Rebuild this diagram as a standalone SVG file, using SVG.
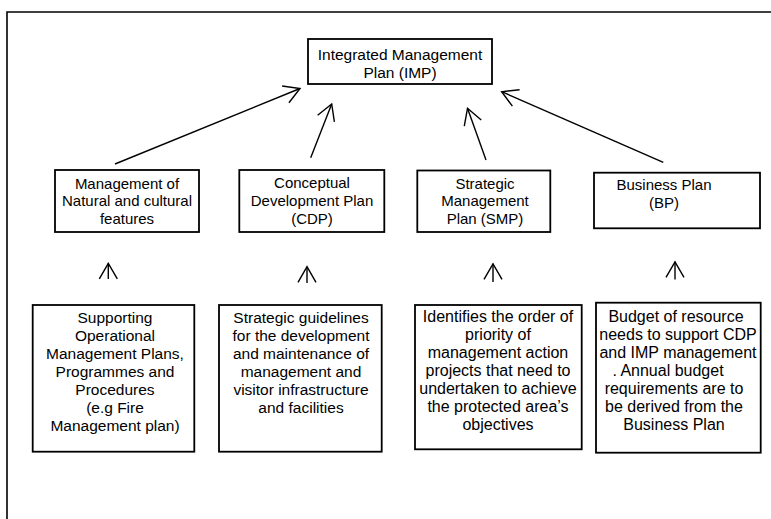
<svg xmlns="http://www.w3.org/2000/svg" width="771" height="519" viewBox="0 0 771 519">
<defs>
<marker id="head" markerUnits="userSpaceOnUse" markerWidth="40" markerHeight="40" viewBox="-20 -20 40 40" refX="0" refY="0" orient="auto" overflow="visible">
<path d="M -15.6 -9 L 0 0 L -15.6 9" fill="none" stroke="#000" stroke-width="1.4"/>
</marker>
</defs>
<style>
.box{fill:#fff;stroke:#000;stroke-width:1.8}
.frame{fill:none;stroke:#000;stroke-width:1.6}
.con{fill:none;stroke:#000;stroke-width:1.4;marker-end:url(#head)}
text{font-family:"Liberation Sans",Arial,sans-serif;font-size:15px;fill:#000;text-anchor:middle}
.m{font-size:15.5px}
.l{font-size:16px}
</style>
<rect width="771" height="519" fill="#fff"/>
<path class="frame" d="M 7 519 L 7 12 L 771 12"/>
<g id="connectors">
<line class="con" x1="115" y1="164" x2="300" y2="88.5"/>
<line class="con" x1="310.7" y1="157.7" x2="331.7" y2="104"/>
<line class="con" x1="486" y1="160" x2="467.5" y2="108.3"/>
<line class="con" x1="663.3" y1="162.3" x2="501.7" y2="91.7"/>
<line class="con" x1="108.3" y1="279" x2="108.3" y2="263.3"/>
<line class="con" x1="307" y1="283" x2="307" y2="266.7"/>
<line class="con" x1="493" y1="282" x2="493" y2="263.8"/>
<line class="con" x1="675" y1="279.5" x2="675" y2="261.8"/>
</g>
<g id="imp">
<rect class="box" x="308" y="39" width="184" height="45"/>
<text class="m" x="400" y="60">Integrated Management</text>
<text class="m" x="400" y="78">Plan (IMP)</text>
</g>
<g id="natural">
<rect class="box" x="55" y="170" width="144" height="62"/>
<text x="127" y="188.5">Management of</text>
<text x="127" y="206">Natural and cultural</text>
<text x="127" y="224">features</text>
</g>
<g id="cdp">
<rect class="box" x="239.3" y="170" width="145" height="62"/>
<text x="312" y="187.5">Conceptual</text>
<text x="312" y="206">Development Plan</text>
<text x="312" y="224">(CDP)</text>
</g>
<g id="smp">
<rect class="box" x="417.3" y="170.5" width="133" height="61.5"/>
<text x="485" y="188.5">Strategic</text>
<text x="485" y="206">Management</text>
<text x="485" y="224">Plan (SMP)</text>
</g>
<g id="bp">
<rect class="box" x="594" y="172.7" width="166" height="55.6"/>
<text x="664" y="190">Business Plan</text>
<text x="664" y="207.7">(BP)</text>
</g>
<g id="supporting">
<rect class="box" x="32.7" y="305" width="161.6" height="146.7"/>
<text class="m" x="115" y="323">Supporting</text>
<text class="m" x="115" y="341">Operational</text>
<text class="m" x="115" y="359">Management Plans,</text>
<text class="m" x="115" y="377">Programmes and</text>
<text class="m" x="115" y="395">Procedures</text>
<text class="m" x="115" y="413">(e.g Fire</text>
<text class="m" x="115" y="431">Management plan)</text>
</g>
<g id="guidelines">
<rect class="box" x="219" y="305" width="162.7" height="146.7"/>
<text class="m" x="301" y="323">Strategic guidelines</text>
<text class="m" x="301" y="341">for the development</text>
<text class="m" x="301" y="359">and maintenance of</text>
<text class="m" x="301" y="377">management and</text>
<text class="m" x="301" y="395">visitor infrastructure</text>
<text class="m" x="301" y="413">and facilities</text>
</g>
<g id="priority">
<rect class="box" x="415" y="305" width="166.7" height="144.3"/>
<text class="l" x="498" y="322">Identifies the order of</text>
<text class="l" x="498" y="340">priority of</text>
<text class="l" x="498" y="358">management action</text>
<text class="l" x="498" y="376">projects that need to</text>
<text class="l" x="498" y="394">undertaken to achieve</text>
<text class="l" x="498" y="412">the protected area’s</text>
<text class="l" x="498" y="430">objectives</text>
</g>
<g id="budget">
<rect class="box" x="596" y="302.7" width="164.7" height="150"/>
<text class="l" x="676" y="322">Budget of resource</text>
<text class="l" x="678" y="340">needs to support CDP</text>
<text class="l" x="678" y="358">and IMP management</text>
<text class="l" x="668" y="376">.  Annual budget</text>
<text class="l" x="674" y="394">requirements are to</text>
<text class="l" x="674" y="412">be derived from the</text>
<text class="l" x="674" y="430">Business Plan</text>
</g>
</svg>
